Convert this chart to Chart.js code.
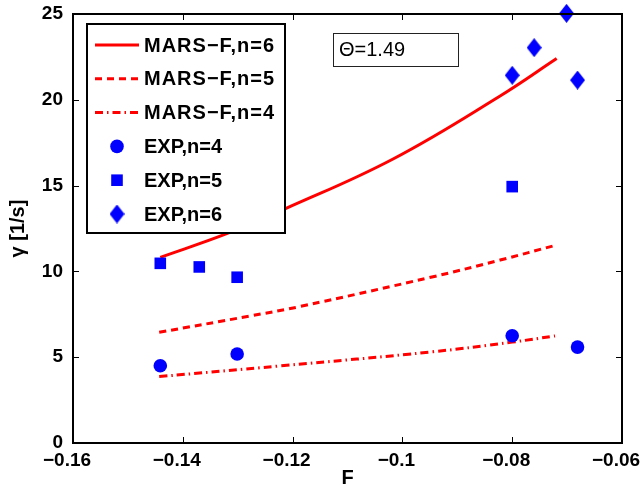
<!DOCTYPE html>
<html><head><meta charset="utf-8">
<script src="https://cdn.jsdelivr.net/npm/chart.js@4.4.0/dist/chart.umd.min.js"></script>
<style>html,body{margin:0;padding:0;background:#fff;} canvas{display:block;}</style>
</head><body>
<canvas id="c" width="642" height="490"></canvas>
<script>
// ---- data ----
const xTickValues = [-0.16, -0.14, -0.12, -0.10, -0.08, -0.06];
const xTickLabels = ['\u22120.16', '\u22120.14', '\u22120.12', '\u22120.1', '\u22120.08', '\u22120.06'];
const yTickValues = [0, 5, 10, 15, 20, 25];
const yTickLabels = ['0', '5', '10', '15', '20', '25'];

const marsN6F = [-0.1441, -0.1320, -0.1214, -0.1017, -0.0822, -0.0719];
const marsN6Gamma = [10.82, 12.20, 13.64, 16.55, 20.22, 22.40];
const marsN5F = [-0.1443, -0.1278, -0.1187, -0.0944, -0.0822, -0.0719];
const marsN5Gamma = [6.45, 7.40, 7.95, 9.69, 10.66, 11.54];
const marsN4F = [-0.1443, -0.1223, -0.0944, -0.0800, -0.0722];
const marsN4Gamma = [3.87, 4.49, 5.32, 5.88, 6.24];

const expN4F = [-0.1441, -0.1301, -0.0800, -0.0681];
const expN4Gamma = [4.50, 5.19, 6.25, 5.59];
const expN5F = [-0.1441, -0.1370, -0.1301, -0.0800];
const expN5Gamma = [10.47, 10.26, 9.66, 14.94];
const expN6F = [-0.0800, -0.0760, -0.0701, -0.0681];
const expN6Gamma = [21.43, 23.04, 25.04, 21.15];

const seriesLabels = ['MARS\u2212F,n=6', 'MARS\u2212F,n=5', 'MARS\u2212F,n=4', 'EXP,n=4', 'EXP,n=5', 'EXP,n=6'];
const annotationText = '\u0398=1.49';
const xTitle = 'F';
const yTitle = '\u03b3 [1/s]';

// ---- helpers ----
const RED = '#ff0000', BLUE = '#0000ff';
function pts(xs, ys) { return xs.map((x, i) => ({ x: x, y: ys[i] })); }
function makeDiamond(w, h, color) {
  const c = document.createElement('canvas'); c.width = w; c.height = h;
  const g = c.getContext('2d'); g.fillStyle = color;
  g.beginPath(); g.moveTo(w / 2, 0); g.lineTo(w, h / 2); g.lineTo(w / 2, h); g.lineTo(0, h / 2); g.closePath(); g.fill();
  return c;
}
const diamond = makeDiamond(15, 19, BLUE);

function lineDs(label, data, dash) {
  return { label, data, showLine: true, borderColor: RED, backgroundColor: RED, borderWidth: 3,
    borderDash: dash, borderCapStyle: 'butt', pointRadius: 0, pointHoverRadius: 0,
    tension: 0.4, order: 2, clip: false };
}
function markDs(label, data, style, r) {
  return { label, data, showLine: false, pointStyle: style, pointRadius: r, pointHoverRadius: r,
    backgroundColor: BLUE, borderColor: BLUE, borderWidth: 0, order: 1, clip: false };
}

const datasets = [
  lineDs(seriesLabels[0], pts(marsN6F, marsN6Gamma), []),
  lineDs(seriesLabels[1], pts(marsN5F, marsN5Gamma), [7, 5]),
  lineDs(seriesLabels[2], pts(marsN4F, marsN4Gamma), [8, 4, 1.5, 4]),
  markDs(seriesLabels[3], pts(expN4F, expN4Gamma), 'circle', 6.8),
  markDs(seriesLabels[4], pts(expN5F, expN5Gamma), 'rect', 8.2),
  markDs(seriesLabels[5], pts(expN6F, expN6Gamma), diamond, 9)
];

const FONT = '"Liberation Sans", Arial, Helvetica, sans-serif';

// box + inward ticks
const boxPlugin = {
  id: 'boxPlugin',
  afterDraw(chart) {
    const { ctx, chartArea: a } = chart;
    const xs = chart.scales.x, ys = chart.scales.y;
    ctx.save();
    ctx.strokeStyle = '#000'; ctx.lineWidth = 2;
    ctx.strokeRect(a.left, a.top, a.right - a.left, a.bottom - a.top);
    ctx.lineWidth = 1;
    const tl = 6;
    ctx.beginPath();
    xTickValues.forEach(v => {
      const p = Math.round(xs.getPixelForValue(v)) + 0.5;
      ctx.moveTo(p, a.bottom); ctx.lineTo(p, a.bottom - tl);
      ctx.moveTo(p, a.top); ctx.lineTo(p, a.top + tl);
    });
    yTickValues.forEach(v => {
      const p = Math.round(ys.getPixelForValue(v)) + 0.5;
      ctx.moveTo(a.left, p); ctx.lineTo(a.left + tl, p);
      ctx.moveTo(a.right, p); ctx.lineTo(a.right - tl, p);
    });
    ctx.stroke();
    ctx.restore();
  }
};

// legend drawn over the data, plus the annotation box
const legendPlugin = {
  id: 'legendPlugin',
  afterDatasetsDraw(chart) {
    const ctx = chart.ctx;
    ctx.save();
    const L = 87, T = 24, R = 285, B = 233;
    ctx.fillStyle = '#fff';
    ctx.fillRect(L, T, R - L, B - T);
    ctx.strokeStyle = '#000'; ctx.lineWidth = 2;
    ctx.strokeRect(L, T, R - L, B - T);
    chart.data.datasets.forEach((ds, i) => {
      const y = 45 + i * 33.8;
      if (ds.showLine) {
        ctx.strokeStyle = ds.borderColor; ctx.lineWidth = ds.borderWidth; ctx.lineCap = 'butt';
        ctx.setLineDash(ds.borderDash || []);
        ctx.beginPath(); ctx.moveTo(95, y); ctx.lineTo(139, y); ctx.stroke();
        ctx.setLineDash([]);
      } else {
        const cx = 117;
        ctx.fillStyle = ds.backgroundColor;
        if (ds.pointStyle === 'circle') {
          ctx.beginPath(); ctx.arc(cx, y, ds.pointRadius, 0, Math.PI * 2); ctx.fill();
        } else if (ds.pointStyle === 'rect') {
          const s = ds.pointRadius * Math.SQRT1_2;
          ctx.fillRect(cx - s, y - s, 2 * s, 2 * s);
        } else {
          const img = ds.pointStyle;
          ctx.drawImage(img, cx - img.width / 2, y - img.height / 2);
        }
      }
      ctx.fillStyle = '#000';
      ctx.font = 'bold 20px ' + FONT;
      ctx.textAlign = 'left'; ctx.textBaseline = 'middle';
      if (ds.showLine) {
        // wider tracking on the MARS labels as in the reference
        try { ctx.letterSpacing = '1px'; } catch (e) {}
      }
      ctx.fillText(ds.label, 144, y + 1);
      try { ctx.letterSpacing = '0px'; } catch (e) {}
    });
    // annotation box
    ctx.fillStyle = '#fff';
    ctx.fillRect(333, 33, 125, 33);
    ctx.strokeStyle = '#222'; ctx.lineWidth = 1;
    ctx.strokeRect(333.5, 33.5, 125, 33);
    ctx.fillStyle = '#000';
    ctx.font = '20px ' + FONT;
    ctx.textAlign = 'left'; ctx.textBaseline = 'middle';
    ctx.fillText(annotationText, 339, 50);
    ctx.restore();
  }
};

new Chart(document.getElementById('c'), {
  type: 'scatter',
  data: { datasets },
  options: {
    responsive: false,
    animation: false,
    devicePixelRatio: 1,
    layout: { padding: { top: 14, right: 20, left: 0, bottom: 0 } },
    plugins: { legend: { display: false }, tooltip: { enabled: false } },
    scales: {
      x: {
        type: 'linear', min: -0.16, max: -0.06,
        afterBuildTicks: s => { s.ticks = xTickValues.map(v => ({ value: v })); },
        afterFit: s => { s.height = 47; s.paddingLeft = 0; s.paddingRight = 0; },
        grid: { display: false, drawTicks: false },
        border: { display: false },
        ticks: { color: '#000', font: { family: FONT, size: 19, weight: 'bold' }, padding: 6,
          labelOffset: -6, maxRotation: 0, autoSkip: false, callback: (v, i) => xTickLabels[i] },
        title: { display: true, text: xTitle, color: '#000', padding: { top: 0, bottom: 0 },
          font: { family: FONT, size: 20, weight: 'bold' } }
      },
      y: {
        type: 'linear', min: 0, max: 25,
        afterBuildTicks: s => { s.ticks = yTickValues.map(v => ({ value: v })); },
        afterFit: s => { s.width = 73; s.paddingTop = 0; s.paddingBottom = 0; },
        grid: { display: false, drawTicks: false },
        border: { display: false },
        ticks: { color: '#000', font: { family: FONT, size: 19, weight: 'bold' }, padding: 10,
          autoSkip: false, callback: (v, i) => yTickLabels[i] },
        title: { display: true, text: yTitle, color: '#000', padding: { top: 6, bottom: 0 },
          font: { family: FONT, size: 20, weight: 'bold' } }
      }
    }
  },
  plugins: [legendPlugin, boxPlugin]
});
</script>
</body></html>
